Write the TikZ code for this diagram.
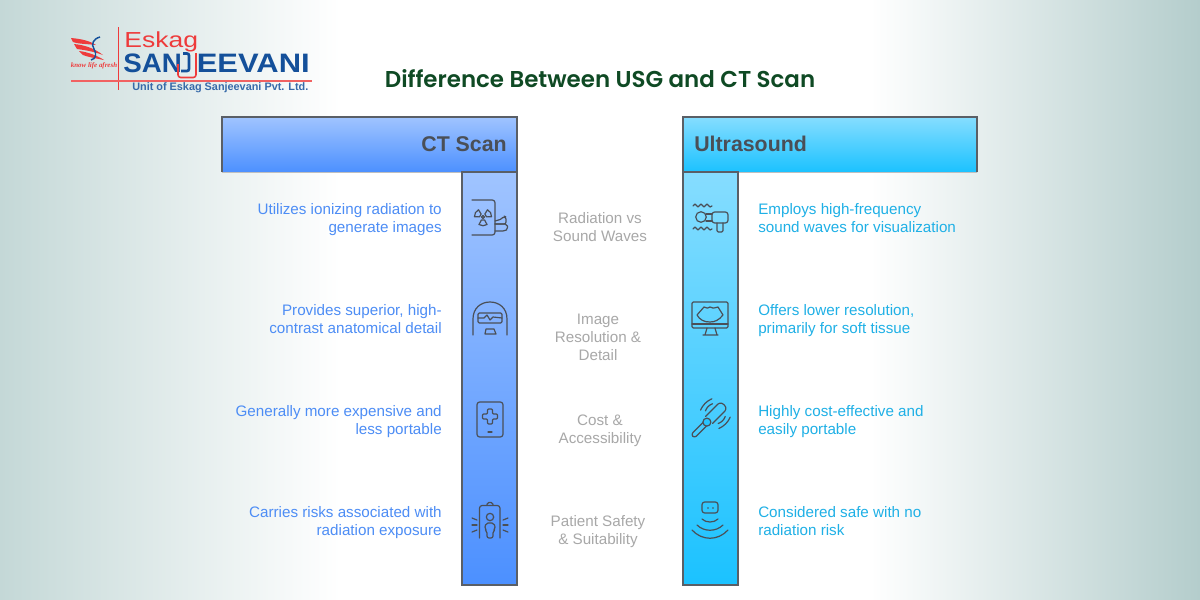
\documentclass[tikz,border=0pt]{standalone}
\usepackage{fontspec}
\setmainfont{Liberation Sans}
\newfontfamily\titlefont{Poppins SemiBold}
\newfontfamily\tagfont{Liberation Serif}
\usetikzlibrary{positioning, calc}

\definecolor{ctTop}{HTML}{A0C4FF}
\definecolor{ctBot}{HTML}{4C90FF}
\definecolor{usTop}{HTML}{86DDFF}
\definecolor{usBot}{HTML}{1BC2FF}
\definecolor{ctText}{HTML}{4D8DF5}
\definecolor{usText}{HTML}{1FB0E6}
\definecolor{midText}{HTML}{A8A8A8}
\definecolor{edgeGray}{HTML}{5A5F66}
\definecolor{iconGray}{HTML}{4A4F57}
\definecolor{logoRed}{HTML}{EE3B3B}
\definecolor{logoBlue}{HTML}{14509A}
\definecolor{titleGreen}{HTML}{0F4A24}
\definecolor{pageLeft}{HTML}{C4D8D7}
\definecolor{pageRight}{HTML}{B4CDCC}

\begin{document}
\begin{tikzpicture}[
  x=0.75pt, y=-0.75pt,
  head/.style={font=\fontsize{16}{20}\selectfont\bfseries, text=iconGray, inner sep=0},
  item/.style={font=\fontsize{11.4}{13.5}\selectfont, inner sep=0, execute at begin node=\strut, execute at end node=\strut},
  ctitem/.style={item, text=ctText, align=right, anchor=east},
  usitem/.style={item, text=usText, align=left, anchor=west},
  miditem/.style={item, text=midText, align=center},
  rim/.style={edgeGray, line width=0.8pt},
  thinrim/.style={black!25, line width=0.6pt},
  icon/.style={draw=iconGray, line width=0.9pt, line cap=round, line join=round},
  ]

  % Page background
  \fill[white] (0,0) rectangle (1200,600);
  \path[left color=pageLeft, right color=white] (0,0) rectangle (340,600);
  \path[left color=white, right color=pageRight] (870,0) rectangle (1200,600);

  % Logo
  \draw[logoRed, line width=0.7pt] (118,27) -- (118,90);
  \draw[logoRed!80, line width=1pt] (71,81) -- (312,81);
  \fill[logoRed] (71,38) .. controls (82,39) and (90,41) .. (96,45) .. controls (88,44) and (78,44) .. (73,42) -- cycle;
  \fill[logoRed] (74,44) .. controls (84,45) and (94,48) .. (103,55) .. controls (92,51) and (84,50) .. (77,49) -- cycle;
  \fill[logoRed] (79,51) .. controls (88,52) and (98,56) .. (104,60) .. controls (94,58) and (88,57) .. (83,55) -- cycle;
  \draw[logoBlue, line width=1.1pt] (100,37) .. controls (93,39) and (91,44) .. (94,49) .. controls (97,54) and (96,59) .. (91,60);
  \node[font=\tagfont\fontsize{5.2}{6}\selectfont\itshape\bfseries, text=logoRed, inner sep=0] (tagline) at (94,66) {know life afresh};
  \node[font=\fontsize{16.3}{20}\selectfont, text=logoRed, inner sep=0, anchor=base west, xscale=1.22] (eskag) at (124,47) {Eskag};
  \node[font=\fontsize{20}{24}\selectfont\bfseries, text=logoBlue, inner sep=0, anchor=base west, xscale=1.04] (san) at (123,72) {SAN};
  \node[font=\fontsize{20}{24}\selectfont\bfseries, text=logoBlue, inner sep=0, anchor=base east, xscale=1.16] (eev) at (310,72) {EEVANI};
  \draw[logoRed, line width=1.2pt, line join=round, rounded corners=2] (178,64) -- (178,77.5) -- (196,77.5) -- (196,53);
  \draw[logoBlue, line width=2pt, rounded corners=1.5] (183,53.5) -- (189,53.5) -- (189,71) -- (181,71);
  \node[font=\fontsize{8.15}{9}\selectfont\bfseries, text=logoBlue!85, inner sep=0, anchor=west] (unit) at (132,88) {Unit of Eskag Sanjeevani Pvt. Ltd.};

  % Title
  \node[font=\titlefont\fontsize{17.2}{20}\selectfont, text=titleGreen, inner sep=0] (title) at (600,79) {Difference Between USG and CT Scan};

  % CT Scan bar
  \path[top color=ctTop, bottom color=ctBot] (222,117) rectangle (517,172);
  \path[top color=ctTop, bottom color=ctBot] (462,172) rectangle (517,585);
  \draw[thinrim] (222,172) -- (462,172);
  \draw[rim] (222,172) -- (222,117) -- (517,117) -- (517,585) -- (462,585) -- (462,172) -- (517,172);
  \node[head, anchor=east] (cthead) at (507,144) {CT Scan};

  % Ultrasound bar
  \path[top color=usTop, bottom color=usBot] (683,117) rectangle (977,172);
  \path[top color=usTop, bottom color=usBot] (683,172) rectangle (738,585);
  \draw[thinrim] (738,172) -- (977,172);
  \draw[rim] (977,172) -- (977,117) -- (683,117) -- (683,585) -- (738,585) -- (738,172) -- (683,172);
  \node[head, anchor=west] (ushead) at (694,144) {Ultrasound};

  % Left column
  \node[ctitem] (ct1) at (442,221) {Utilizes ionizing radiation to\\generate images};
  \node[ctitem] (ct2) at (442,322) {Provides superior, high-\\contrast anatomical detail};
  \node[ctitem] (ct3) at (442,423) {Generally more expensive and\\less portable};
  \node[ctitem] (ct4) at (442,524) {Carries risks associated with\\radiation exposure};

  % Middle column
  \node[miditem] (mid1) at (600,230) {Radiation vs\\Sound Waves};
  \node[miditem] (mid2) at (598,340) {Image\\Resolution \&\\Detail};
  \node[miditem] (mid3) at (600,432) {Cost \&\\Accessibility};
  \node[miditem] (mid4) at (598,533) {Patient Safety\\\& Suitability};

  % Right column
  \node[usitem] (us1) at (758,221) {Employs high-frequency\\sound waves for visualization};
  \node[usitem] (us2) at (758,322) {Offers lower resolution,\\primarily for soft tissue};
  \node[usitem] (us3) at (758,423) {Highly cost-effective and\\easily portable};
  \node[usitem] (us4) at (758,524) {Considered safe with no\\radiation risk};

  % CT icons
  \draw[icon, rounded corners=2] (472,200) -- (495,200) -- (495,235) -- (472,235);
  \foreach \a in {90,210,330}
    \draw[icon, shift={(483,217)}] (\a-28:3.5) -- (\a-28:8.5) .. controls (\a-10:9.3) and (\a+10:9.3) .. (\a+28:8.5) -- (\a+28:3.5) -- cycle;
  \draw[icon] (483,217) circle (1.5);
  \draw[icon, rounded corners=1.5] (495,221) -- (502,219) -- (504,216) -- (506,217) -- (506,224) -- (495,224);
  \draw[icon, rounded corners=1.5] (495,224) -- (507,224) -- (508,229) -- (505,231) -- (495,231);

  \draw[icon] (473,335) -- (473,319) .. controls (473,308) and (481,302) .. (490,302) .. controls (499,302) and (507,308) .. (507,319) -- (507,335);
  \draw[icon, rounded corners=1] (478,313) rectangle (502,323);
  \draw[icon] (478,318) -- (484,318) -- (487,315) -- (490,320) -- (493,317) -- (502,318);
  \draw[icon] (485,334) -- (486,329) -- (494,329) -- (496,334) -- cycle;

  \draw[icon, rounded corners=2] (477,402) rectangle (503,437);
  \draw[icon, rounded corners=0.8] (487.5,409) -- (492.5,409) -- (492.5,414) -- (497.5,414) -- (497.5,419) -- (492.5,419) -- (492.5,424) -- (487.5,424) -- (487.5,419) -- (482.5,419) -- (482.5,414) -- (487.5,414) -- cycle;
  \draw[icon] (488,432) -- (492,432);

  \draw[icon, rounded corners=2] (479.5,538) -- (479.5,505.5) -- (500,505.5) -- (500,538);
  \draw[icon, rounded corners=1] (487,505) -- (487.5,502.5) -- (492.5,502.5) -- (493,505);
  \draw[icon] (490,517) circle (3.7);
  \draw[icon, rounded corners=1.5] (487,538) -- (487,531) -- (484.5,529) -- (486,523) -- (494,523) -- (495.5,529) -- (493,531) -- (493,538) -- cycle;
  \foreach \xa/\xb in {472/477,508/503} {
    \draw[icon] (\xa,518) -- (\xb,520);
    \draw[icon] (\xa,525) -- (\xb,525);
    \draw[icon] (\xa,532) -- (\xb,530);
  }

  % Ultrasound icons
  \foreach \y in {206,229}
    \draw[icon] (693,\y) -- (695,\y-2) -- (698,\y+1) -- (701,\y-2) -- (704,\y+1) -- (707,\y-2) -- (710,\y+1) -- (712,\y);
  \draw[icon] (701,217) circle (5.3);
  \draw[icon] (706,214) -- (712,214) (706,221) -- (712,221);
  \draw[icon, rounded corners=2] (712,212) rectangle (728,223);
  \draw[icon, rounded corners=1] (717,223) -- (717,232) -- (723,232) -- (723,223);

  \draw[icon, rounded corners=1] (692,302) rectangle (728,328);
  \draw[icon] (692,324) -- (728,324);
  \draw[icon] (707,328) -- (705,335) (715,328) -- (717,335) (703,335) -- (718,335);
  \draw[icon] (704,307) .. controls (707,308) and (708,309) .. (710,307) .. controls (712,309) and (714,308) .. (718,307) -- (723,315) .. controls (719,320) and (715,322) .. (710,322) .. controls (704,322) and (700,320) .. (697,315) -- cycle;

  \begin{scope}[shift={(709,420)}, rotate=45]
    \draw[icon, rounded corners=2] (-23,-2.5) rectangle (-4,2.5);
    \draw[icon, rounded corners=2] (0,-5) -- (20,-5) -- (22,0) -- (20,5) -- (0,5);
    \draw[icon, fill=usBot!90!usTop] (-3,0) circle (4);
    \draw[icon] (4,-9) .. controls (7,-10.5) and (11,-10.5) .. (14,-9);
    \draw[icon] (1,-13) .. controls (6,-15) and (12,-15) .. (17,-13);
    \draw[icon] (4,9) .. controls (7,10.5) and (11,10.5) .. (14,9);
    \draw[icon] (1,13) .. controls (6,15) and (12,15) .. (17,13);
  \end{scope}

  \draw[icon, rounded corners=2] (702,502) rectangle (718,513);
  \fill[iconGray] (708,508) circle (0.8) (713,508) circle (0.8);
  \draw[icon] (702,519) .. controls (706,523) and (714,523) .. (718,519);
  \draw[icon] (697,525) .. controls (704,532) and (716,532) .. (723,525);
  \draw[icon] (692,530) .. controls (702,541) and (718,541) .. (728,530);

\end{tikzpicture}
\end{document}
